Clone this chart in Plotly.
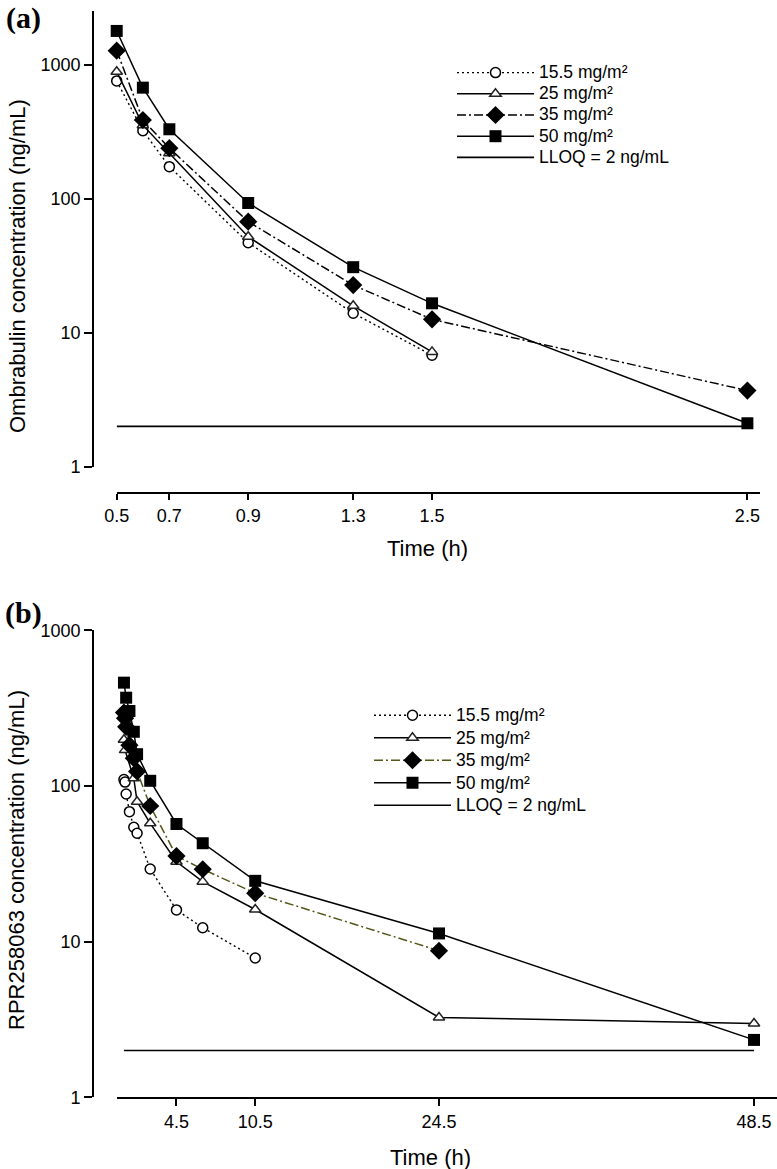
import plotly.graph_objects as go

# ---------------- data: panel (a) Ombrabulin ----------------
time_a = [0.5, 0.583, 0.667, 0.917, 1.25, 1.5, 2.5]          # actual sampling times (h)
tick_a_vals = [0.5, 0.667, 0.917, 1.25, 1.5, 2.5]
tick_a_text = ["0.5", "0.7", "0.9", "1.3", "1.5", "2.5"]
a_155 = [760, 323, 174, 47.1, 14.0, 6.8]
a_25 = [891, 355, 219, 52.2, 15.9, 7.2]
a_35 = [1279, 388, 239, 67.6, 22.7, 12.6, 3.7]
a_50 = [1795, 677, 331, 93.2, 30.9, 16.6, 2.11]

# ---------------- data: panel (b) RPR258063 ----------------
time_b155 = [0.5, 0.583, 0.667, 0.917, 1.25, 1.5, 2.5, 4.5, 6.5, 10.5]
b_155 = [110, 106, 88.9, 68.4, 54.3, 49.7, 29.3, 16.0, 12.3, 7.86]
time_b25 = [0.5, 0.583, 1.25, 1.5, 2.5, 4.5, 6.5, 10.5, 24.5, 48.5]
b_25 = [198, 170, 112, 79.3, 57.6, 32.6, 24.3, 16.1, 3.26, 2.98]
time_b35 = [0.5, 0.583, 0.667, 0.917, 1.25, 1.5, 2.5, 4.5, 6.5, 10.5, 24.5]
b_35 = [296, 272, 240, 183, 151, 124, 74.4, 35.5, 29.2, 20.5, 8.75]
time_b50 = [0.5, 0.667, 0.917, 1.25, 1.5, 2.5, 4.5, 6.5, 10.5, 24.5, 48.5]
b_50 = [461, 369, 303, 223, 160, 108, 57, 42.9, 24.6, 11.3, 2.34]
tick_b_vals = [4.5, 10.5, 24.5, 48.5]
tick_b_text = ["4.5", "10.5", "24.5", "48.5"]

lloq = 2
y_tick_vals = [1, 10, 100, 1000]
y_tick_text = ["1", "10", "100", "1000"]
dose_names = ["15.5 mg/m²", "25 mg/m²", "35 mg/m²", "50 mg/m²"]
lloq_name = "LLOQ = 2 ng/mL"

W, H = 777, 1169
FONT = "Liberation Sans, Arial, sans-serif"


def px(x):
    return x / W


def py(y):
    return 1 - y / H


def big(s):
    return '<span style="font-size:17.5px">' + s + '</span>'


fig = go.Figure()


def add_panel(xa, ya, leg, series, lloq_x, dash35_color):
    styles = [
        dict(line=dict(color="black", width=1.4, dash="2px,3px"),
             marker=dict(symbol="circle", size=10, color="white",
                         line=dict(color="black", width=1.5))),
        dict(line=dict(color="black", width=1.5),
             marker=dict(symbol="triangle-up", size=10, color="white",
                         line=dict(color="#222", width=1.5))),
        dict(line=dict(color=dash35_color, width=1.5, dash="9px,3px,2px,3px"),
             marker=dict(symbol="diamond", size=14, color="black",
                         line=dict(color="black", width=0))),
        dict(line=dict(color="black", width=1.5),
             marker=dict(symbol="square", size=12, color="black",
                         line=dict(color="black", width=0))),
    ]
    for (t, v), name, st in zip(series, dose_names, styles):
        fig.add_trace(go.Scatter(
            x=t, y=v, name=big(name), mode="lines+markers", xaxis=xa, yaxis=ya,
            legend=leg, cliponaxis=False, **st))
    fig.add_trace(go.Scatter(
        x=lloq_x, y=[lloq, lloq], name=big(lloq_name), mode="lines",
        xaxis=xa, yaxis=ya, legend=leg,
        line=dict(color="black", width=1.6)))


add_panel("x", "y", "legend",
          [(time_a[:6], a_155), (time_a[:6], a_25), (time_a, a_35), (time_a, a_50)],
          [time_a[0], time_a[-1]], "black")
add_panel("x2", "y2", "legend2",
          [(time_b155, b_155), (time_b25, b_25), (time_b35, b_35), (time_b50, b_50)],
          [time_b50[0], time_b50[-1]], "#55551a")

axis_common = dict(showline=True, linecolor="black", linewidth=1.8,
                   ticks="outside", tickwidth=1.5, tickcolor="black",
                   showgrid=False, zeroline=False,
                   tickfont=dict(size=18, family=FONT, color="black"))

fig.update_layout(
    width=W, height=H,
    margin=dict(l=0, r=0, t=0, b=0, autoexpand=False),
    paper_bgcolor="white", plot_bgcolor="white",
    showlegend=True,
    xaxis=dict(domain=[px(116.7), px(760)], range=[0.5, 2.54],
               anchor="free", position=py(493), ticklen=6,
               tickvals=tick_a_vals, ticktext=tick_a_text, **axis_common),
    yaxis=dict(type="log", domain=[py(466.7), py(11.4)], range=[0, 3.4],
               anchor="free", position=px(93), ticklen=8,
               tickvals=y_tick_vals, ticktext=y_tick_text, **axis_common),
    xaxis2=dict(domain=[px(117.4), 1.0], range=[0, 50.25],
                anchor="free", position=py(1098), ticklen=7,
                tickvals=tick_b_vals, ticktext=tick_b_text, **axis_common),
    yaxis2=dict(type="log", domain=[py(1097.4), py(630.3)], range=[0, 3],
                anchor="free", position=px(93), ticklen=8,
                tickvals=y_tick_vals, ticktext=y_tick_text, **axis_common),
    legend=dict(x=px(452), y=py(57), xanchor="left", yanchor="top",
                itemwidth=77,
                font=dict(size=14, family=FONT, color="black"),
                bgcolor="rgba(0,0,0,0)", borderwidth=0),
    legend2=dict(x=px(369), y=py(699), xanchor="left", yanchor="top",
                 itemwidth=77,
                 font=dict(size=15, family=FONT, color="black"),
                 bgcolor="rgba(0,0,0,0)", borderwidth=0),
)

ann = [
    dict(text="<b>(a)</b>", x=px(23), y=py(18), font=dict(size=30, family="Liberation Serif, Times New Roman, serif")),
    dict(text="<b>(b)</b>", x=px(23), y=py(613), font=dict(size=30, family="Liberation Serif, Times New Roman, serif")),
    dict(text="Time (h)", x=px(427), y=py(549), font=dict(size=22, family=FONT)),
    dict(text="Time (h)", x=px(430), y=py(1157), font=dict(size=22, family=FONT)),
    dict(text="Ombrabulin concentration (ng/mL)", x=px(17), y=py(266), textangle=-90,
         font=dict(size=22, family=FONT)),
    dict(text="RPR258063 concentration (ng/mL)", x=px(17), y=py(860), textangle=-90,
         font=dict(size=22, family=FONT)),
]
for a in ann:
    a.update(xref="paper", yref="paper", showarrow=False, xanchor="center", yanchor="middle")
    a["font"]["color"] = "black"
fig.update_layout(annotations=ann)

fig.write_html("out.html", config={"displayModeBar": False},
               post_script="document.body.style.margin='0px';")
